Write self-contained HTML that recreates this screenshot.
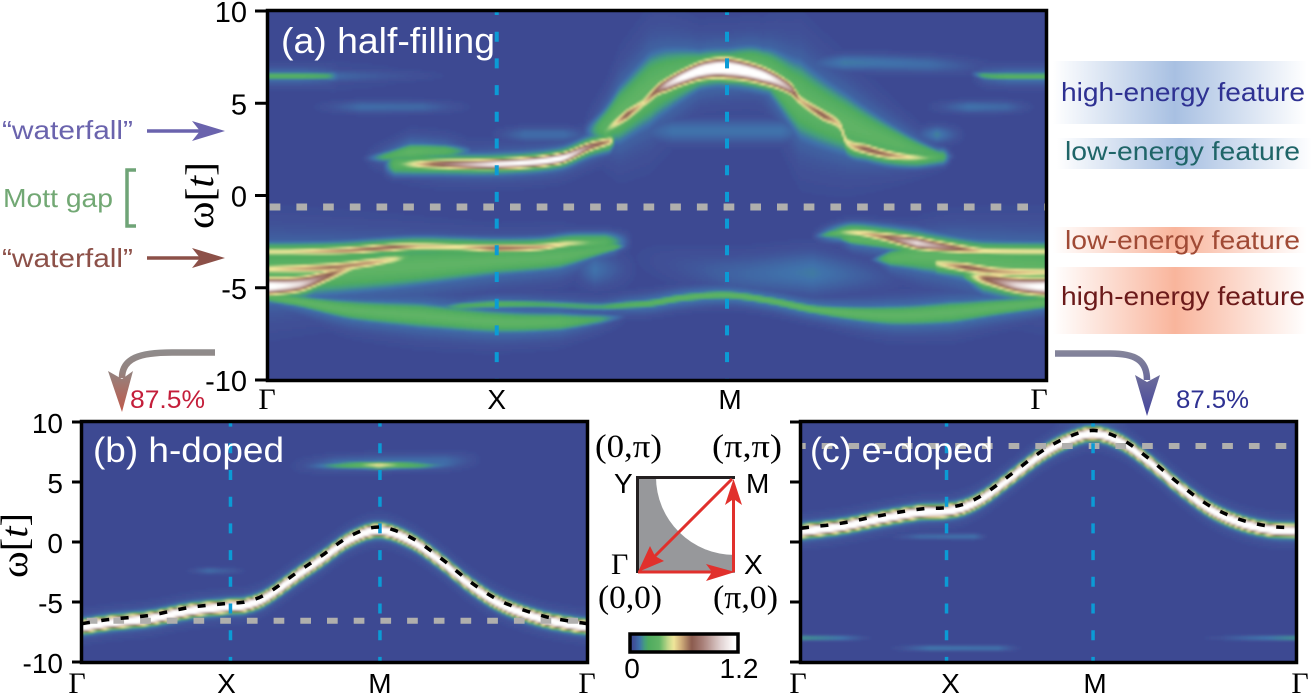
<!DOCTYPE html>
<html lang="en">
<head>
<meta charset="utf-8">
<title>Spectral function panels</title>
<style>
html,body{margin:0;padding:0;background:#fff;}
svg{display:block;}
text{font-family:"Liberation Sans",sans-serif;}
.serif{font-family:"Liberation Serif",serif;}
</style>
</head>
<body>
<svg id="figure" xmlns="http://www.w3.org/2000/svg" width="1314" height="694" viewBox="0 0 1314 694">
<defs>
<filter id="heat-blur" filterUnits="userSpaceOnUse" x="0" y="0" width="1314" height="694"><feGaussianBlur stdDeviation="1"/></filter>
<clipPath id="clip-a"><rect x="268" y="12" width="778" height="367"/></clipPath>
<clipPath id="clip-b"><rect x="82" y="423" width="505" height="238"/></clipPath>
<clipPath id="clip-c"><rect x="801" y="423" width="495" height="238"/></clipPath>
<linearGradient id="grad-blue-high" x1="0" x2="1" y1="0" y2="0"><stop offset="0" stop-color="#a8c0e2" stop-opacity="0"/><stop offset=".48" stop-color="#a8c0e2"/><stop offset="1" stop-color="#a8c0e2" stop-opacity="0"/></linearGradient>
<linearGradient id="grad-red-high" x1="0" x2="1" y1="0" y2="0"><stop offset="0" stop-color="#f9b59c" stop-opacity="0"/><stop offset=".48" stop-color="#f9b59c"/><stop offset="1" stop-color="#f9b59c" stop-opacity="0"/></linearGradient>
<linearGradient id="grad-arrow-left" gradientUnits="userSpaceOnUse" x1="0" x2="0" y1="352" y2="412"><stop offset="0" stop-color="#8f8b8b"/><stop offset=".35" stop-color="#95827e"/><stop offset="1" stop-color="#c0594a"/></linearGradient>
<linearGradient id="grad-arrow-right" gradientUnits="userSpaceOnUse" x1="0" x2="0" y1="352" y2="416"><stop offset="0" stop-color="#85859a"/><stop offset="1" stop-color="#45459c"/></linearGradient>
</defs>

<g>
<text x="2" y="139" font-size="26" fill="#6a63ad" textLength="131" lengthAdjust="spacingAndGlyphs">“waterfall”</text>
<line x1="147" y1="131" x2="205" y2="131" stroke="#6a63ad" stroke-width="3.5"/>
<polygon points="192,121 225,131 192,141 200,131" fill="#6a63ad"/>
<text x="3" y="207" font-size="26" fill="#72a874" textLength="110" lengthAdjust="spacingAndGlyphs">Mott gap</text>
<path d="M136,170 H127 V226 H136" fill="none" stroke="#6fa477" stroke-width="3.5"/>
<text x="2" y="267" font-size="26" fill="#8c5048" textLength="131" lengthAdjust="spacingAndGlyphs">“waterfall”</text>
<line x1="147" y1="258" x2="205" y2="258" stroke="#8c5048" stroke-width="3.5"/>
<polygon points="192,248 225,258 192,268 200,258" fill="#8c5048"/>
<text transform="translate(213,229) rotate(-90)" class="serif" font-size="40" fill="#000" textLength="67" lengthAdjust="spacingAndGlyphs">ω[<tspan font-style="italic">t</tspan>]</text>
<text transform="translate(27,578) rotate(-90)" class="serif" font-size="38" fill="#000" textLength="65" lengthAdjust="spacingAndGlyphs">ω[<tspan font-style="italic">t</tspan>]</text>
</g>

<g>
<rect x="1053" y="61" width="254" height="63" fill="url(#grad-blue-high)"/>
<rect x="1057" y="138" width="255" height="31" fill="url(#grad-blue-high)"/>
<rect x="1053" y="227" width="254" height="26" fill="url(#grad-red-high)"/>
<rect x="1053" y="267" width="254" height="67" fill="url(#grad-red-high)"/>
<text x="1061" y="101" font-size="26" fill="#2e3192" textLength="244" lengthAdjust="spacingAndGlyphs">high-energy feature</text>
<text x="1065" y="160" font-size="26" fill="#1f6568" textLength="235" lengthAdjust="spacingAndGlyphs">low-energy feature</text>
<text x="1065" y="249" font-size="26" fill="#a04a35" textLength="235" lengthAdjust="spacingAndGlyphs">low-energy feature</text>
<text x="1061" y="305" font-size="26" fill="#6b1a1a" textLength="244" lengthAdjust="spacingAndGlyphs">high-energy feature</text>
</g>

<g>
<path d="M215,352.5 H172 C140,352.5 122,358 122,378" fill="none" stroke="url(#grad-arrow-left)" stroke-width="6.5"/>
<polygon points="108,371 122,379 133,371 122,412" fill="url(#grad-arrow-left)"/>
<text x="130" y="408" font-size="25" fill="#c41e3a" textLength="75" lengthAdjust="spacingAndGlyphs">87.5%</text>
<path d="M1055,353.5 H1110 C1135,353.5 1147,360 1147,380" fill="none" stroke="url(#grad-arrow-right)" stroke-width="6.5"/>
<polygon points="1135,375 1147,382 1160,375 1147,416" fill="url(#grad-arrow-right)"/>
<text x="1176" y="408" font-size="25" fill="#2e3192" textLength="73" lengthAdjust="spacingAndGlyphs">87.5%</text>
</g>

<g id="panels"></g>

<g>
<rect x="637" y="477" width="98" height="96" fill="#97989b"/>
<path d="M656,477 A79,78 0 0 0 735,555 V477 Z" fill="#fff"/>
<path d="M637.5,573 V477.5 H735" fill="none" stroke="#231f20" stroke-width="3"/>
<line x1="638" y1="572" x2="715" y2="572" stroke="#e1302c" stroke-width="3"/>
<polygon points="706,564 735,572 706,581 712,572" fill="#e1302c"/>
<line x1="733.5" y1="572" x2="733.5" y2="495" stroke="#e1302c" stroke-width="3"/>
<polygon points="725,505 733.5,479 742,505 733.5,499" fill="#e1302c"/>
<line x1="732" y1="479" x2="652" y2="559" stroke="#e1302c" stroke-width="3"/>
<polygon points="638,572 650,546 655,556 664,561" fill="#e1302c"/>
<text class="serif" x="595" y="457" font-size="33" fill="#000" textLength="67" lengthAdjust="spacingAndGlyphs">(0,π)</text>
<text class="serif" x="712" y="457" font-size="33" fill="#000" textLength="70" lengthAdjust="spacingAndGlyphs">(π,π)</text>
<text class="serif" x="598" y="608" font-size="33" fill="#000" textLength="64" lengthAdjust="spacingAndGlyphs">(0,0)</text>
<text class="serif" x="713" y="608" font-size="33" fill="#000" textLength="65" lengthAdjust="spacingAndGlyphs">(π,0)</text>
<text x="614" y="493" font-size="28" fill="#000">Y</text>
<text x="746" y="493" font-size="28" fill="#000">M</text>
<text class="serif" x="611" y="574" font-size="30" fill="#000">Γ</text>
<text x="744" y="574" font-size="28" fill="#000">X</text>
</g>

<g id="colorbar"></g>

<script>
// ---- momentum path (percent along Γ-X-M-Γ) and energy axis ----
const kTickValues = [0, 29.4, 59, 100];
const kTickLabels = ['Γ', 'X', 'M', 'Γ'];
const energyTickValues = [10, 5, 0, -5, -10];
const energyTickLabels = ['10', '5', '0', '-5', '-10'];
const fermiLevelA = -0.62;
const fermiLevelB = -6.56;
const fermiLevelC = 8.0;
const colorbarLabels = ['0', '1.2'];

// ---- panel (a) spectral bands: k, energy, weight, width ----
const uhbK = [14.5,16.3,19.5,22.1,29.4,37.5,41.4,44,44.6];
const uhbW = [1.7,1.7,1.7,1.7,1.7,2.0,2.65,2.95,3.05];
const uhbI = [0,.25,.55,.75,1.15,1.25,.8,.58,0];
const uhbS = .2;
const uhbHaloK = [13.5,22,29.4,37.5,41.4,44.5];
const uhbHaloW = [1.75,1.7,1.7,2.0,2.65,3.0];
const uhbHaloI = [0,.25,.28,.28,.28,.2];
const uhbHaloS = .32;
const domeK = [43.3,46.1,48.2,50,51.3,53.3,56,59,63.6,67.1,68.4,71.3,73.5,74.4,77,79.9,83.4,86.8,88];
const domeW = [3.5,4.36,5.0,5.7,6.0,6.4,6.8,6.9,6.5,5.8,5.17,4.36,3.8,2.9,2.5,2.2,2.05,2.1,2.1];
const domeI = [.3,.72,.5,.75,1.0,1.2,1.35,1.4,1.25,.9,.55,.72,.52,.48,.74,.64,.44,.2,0];
const domeS = [.25,.25,.25,.26,.28,.3,.34,.38,.33,.26,.25,.25,.25,.25,.22,.2,.17,.14,.12];
const domeHaloK = [40.1,43,45.2,49.1,51.3,55.5,59,63.6,68.4,74.4,81.2,86.3,88.5];
const domeHaloW = [3.4,3.7,4.4,5.75,6.25,6.8,6.95,6.9,5.2,3.85,2.75,2.2,2.1];
const domeHaloI = [0,.25,.3,.3,.3,.3,.3,.3,.3,.3,.28,.2,0];
const domeHaloS = [.3,.6,1.0,1.25,1.1,.7,.67,.7,1.35,1.05,.55,.2,.1];
const shelfK = [12,15,18.3,22.8,26];
const shelfW = [2,2.1,2.35,2.4,2.4];
const shelfI = [0,.2,.3,.25,.08];
const shelfS = [.15,.2,.3,.25,.2];
const lhb1K = [-1,2.8,9.3,15.7,19.5,24.7,29.4,35,38.8,43.3,47];
const lhb1W = [-3.05,-3.05,-3,-2.82,-2.75,-2.8,-2.85,-2.8,-2.6,-2.55,-2.5];
const lhb1I = [.48,.48,.62,.72,.55,.5,.72,.6,.45,.25,0];
const lhb1S = .17;
const lhb2K = [-1,8,13.1,16.3,19.5];
const lhb2W = [-4.0,-3.9,-3.65,-3.45,-3.3];
const lhb2I = [.46,.66,.6,.46,.1];
const lhb2S = .21;
const lhb3K = [-1,4.1,7.3,10.5,13.1,16];
const lhb3W = [-4.95,-4.8,-4.4,-3.9,-3.6,-3.4];
const lhb3I = [1.3,1.05,.75,.5,.3,0];
const lhb3S = [.33,.3,.26,.24,.22,.2];
const lhbBlobK = [-1,16,29.4,37.5,44.5,46.5];
const lhbBlobW = [-4.2,-3.9,-3.55,-3.3,-2.8,-2.7];
const lhbBlobI = [.3,.3,.3,.3,.25,0];
const lhbBlobS = [1,.75,.5,.45,.15,.1];
const lowBlobK = [0,4,10.5,19.5,29.4,37.5,42.7,47];
const lowBlobW = [-5.5,-5.75,-6.2,-6.5,-6.85,-6.85,-6.7,-6.5];
const lowBlobI = [.25,.3,.3,.3,.3,.28,.18,0];
const lowBlobS = [.2,.2,.35,.45,.4,.33,.2,.1];
const lowThinK = [19.5,24.7,29.4,35,42.7,46.1,49.1,53.3,59,64.5,70.6,79.9,87.7,94.1,101];
const lowThinW = [-6.2,-6.0,-5.9,-5.9,-6.03,-5.94,-5.85,-5.55,-5.4,-5.7,-6.2,-6.5,-6.35,-6.05,-5.77];
const lowThinI = [0,.2,.25,.2,.18,.25,.28,.3,.3,.3,.3,.3,.3,.3,.3];
const lowThinS = [.15,.15,.15,.15,.15,.15,.15,.15,.15,.15,.17,.35,.4,.3,.2];
const r1K = [69.7,74.8,79,83.4,87.7,91.9,101];
const r1W = [-2.23,-2,-2.23,-2.58,-2.83,-3,-3.05];
const r1I = [0,.45,.65,1.05,.78,.5,.48];
const r1S = [.14,.16,.2,.25,.21,.17,.17];
const r2K = [85,86,89.8,94.1,101];
const r2W = [-3.55,-3.67,-3.9,-4.13,-4.15];
const r2I = [0,.45,.72,.6,.48];
const r2S = .21;
const r3K = [88.5,91.9,96.3,101];
const r3W = [-4.2,-4.48,-4.85,-4.97];
const r3I = [0,.65,1.05,1.3];
const r3S = [.22,.28,.31,.34];
const rTopK = [72,75,81,84];
const rTopW = [-2.2,-2.35,-2.6,-3];
const rTopI = [0,.3,.3,.3];
const rTopS = [.1,.2,.3,.4];
const rBlobK = [77,80,84,88,94,101];
const rBlobW = [-3.5,-3.4,-3.3,-3.4,-3.8,-4.1];
const rBlobI = [0,.28,.3,.3,.3,.3];
const rBlobS = [.05,.3,.55,.7,.85,.95];
const hazeLowK = [45,59,70,85];
const hazeLowW = [-3.2,-4.2,-4.2,-4.6];
const hazeLowI = [0,.07,.11,0];
const hazeLowS = [.7,.8,.9,.5];
const hazeMidK = [38,42,48];
const hazeMidW = [-3.8,-4,-4];
const hazeMidI = [0,.1,0];
const hazeMidS = .7;
const hazeTopK = [66,74,85,95];
const hazeTopW = [7,7.2,7.1,6.9];
const hazeTopI = [0,.11,.09,0];
const hazeTopS = .35;
const streakLK = [-1,4,7.5,9,25];
const streakLW = [6.47,6.47,6.47,6.47,6.5];
const streakLI = [.27,.27,.2,.08,0];
const streakLS = [.12,.12,.14,.25,.25];
const streakRK = [90,92,95,101];
const streakRW = [6.65,6.5,6.45,6.45];
const streakRI = [0,.2,.27,.27];
const streakRS = .13;
const faintLK = [5,12,20,27];
const faintLW = [4.8,4.8,4.8,4.8];
const faintLI = [0,.09,.08,0];
const faintRK = [84,90,95,99];
const faintRW = [4.8,4.8,4.8,4.8];
const faintRI = [0,.1,.08,0];
const faintS = .25;
const hazeUnderK = [44,52,66,72];
const hazeUnderW = [3.5,3.5,3.5,3.5];
const hazeUnderI = [0,.1,.1,0];
const hazeUnderS = .5;
const hazeRK = [82,86,90];
const hazeRW = [3.3,3.3,3.3];
const hazeRI = [0,.12,0];
const hazeRS = .35;
const hazeGapK = [28,33,38,43];
const hazeGapW = [3.3,3.3,3.3,3.3];
const hazeGapI = [0,.09,.09,0];
const hazeGapS = .3;

// ---- panel (b): quasiparticle dispersion and satellites ----
const dispBK = [0,5.5,13.5,21.4,29.3,32.3,36.2,43.2,47.1,53.1,58.8,65,70.9,76.8,82.8,90.7,96.6,100];
const dispBW = [-6.8,-6.45,-6.1,-5.45,-5.1,-5.0,-4.4,-2.35,-1.25,.5,1.25,.4,-1.3,-3.3,-4.9,-6.1,-6.6,-6.8];
const satB1K = [42,48,55,58.8,63,70,78];
const satB1W = [6.3,6.35,6.4,6.4,6.4,6.4,6.6];
const satB1I = [0,.12,.3,.5,.3,.12,0];
const satB2K = [40,50,60,72,80];
const satB2W = [6.3,6.5,6.6,6.7,6.9];
const satB2I = [0,.09,.1,.09,0];
const satB3K = [20,25,30,33];
const satB3W = [-2.4,-2.4,-2.4,-2.4];
const satB3I = [0,.09,.05,0];

// ---- panel (c): quasiparticle dispersion and satellites ----
const dispCK = [0,7.9,16,24.1,29.4,33.2,37.2,42.3,48.4,53.4,58.9,64.6,70.6,76.7,82.8,88.9,94.9,100];
const dispCW = [1.15,1.55,2.2,2.75,2.86,3.2,4.05,5.6,7.5,8.65,9.3,8.6,6.85,4.75,2.95,1.85,1.3,1.2];
const satC1K = [-1,8,15];
const satC1W = [-8,-8,-8];
const satC1I = [.16,.12,0];
const satC2K = [80,90,101];
const satC2W = [-8,-8,-8];
const satC2I = [0,.09,.16];
const satC3K = [17,26,40,45];
const satC3W = [-8.85,-8.85,-8.85,-8.85];
const satC3I = [0,.11,.1,0];
const satC4K = [17,24,35,38];
const satC4W = [.45,.45,.45,.45];
const satC4I = [0,.09,.1,0];
const satC5K = [50,59,67];
const satC5W = [9.6,9.6,9.6];
const satC5I = [0,.1,0];

const mainBandWeight = 1.6;
const mainBandWidth = .3;
const mainBandShift = -0.28;
const mainHaloWeight = .3;
const mainHaloWidth = .5;
const mainFringeWeight = .1;
const mainFringeWidth = .8;

// ---- colormap ----
const cmapValues = [0,.04,.1,.16,.2,.32,.42,.48,.56,.68,.8,1.0,1.15];
const cmapColors = [[62,74,146],[63,82,152],[63,114,171],[69,160,122],[79,171,96],[98,181,102],[196,217,139],[240,230,154],[210,176,124],[139,91,78],[168,127,120],[224,208,208],[255,255,255]];

const NS = 'http://www.w3.org/2000/svg';
function svgEl(tag, attrs, parent){
  const el = document.createElementNS(NS, tag);
  for (const a in attrs) el.setAttribute(a, attrs[a]);
  parent.appendChild(el);
  return el;
}
function colorOf(v){
  const n = cmapValues.length;
  if (v <= cmapValues[0]) return cmapColors[0];
  if (v >= cmapValues[n-1]) return cmapColors[n-1];
  for (let i = 0; i < n-1; i++){
    if (v <= cmapValues[i+1]){
      const u = (v-cmapValues[i])/(cmapValues[i+1]-cmapValues[i]);
      return cmapColors[i].map((c,j)=>Math.round(c+(cmapColors[i+1][j]-c)*u));
    }
  }
  return cmapColors[n-1];
}
function rgb(c){ return 'rgb('+c[0]+','+c[1]+','+c[2]+')'; }
function lerp(ks, vs, t){
  if (typeof vs === 'number') return vs;
  for (let i = 0; i < ks.length-1; i++){
    if (t <= ks[i+1]){
      const u = (t-ks[i])/(ks[i+1]-ks[i]);
      return vs[i]+(vs[i+1]-vs[i])*u;
    }
  }
  return vs[vs.length-1];
}
function smooth(ks, vs, t){
  const n = ks.length;
  let i = 0;
  while (i < n-2 && t > ks[i+1]) i++;
  const h = ks[i+1]-ks[i];
  const u = (t-ks[i])/h;
  const m0 = i > 0 ? (vs[i+1]-vs[i-1])/(ks[i+1]-ks[i-1]) : (vs[1]-vs[0])/(ks[1]-ks[0]);
  const m1 = i < n-2 ? (vs[i+2]-vs[i])/(ks[i+2]-ks[i]) : (vs[n-1]-vs[n-2])/(ks[n-1]-ks[n-2]);
  const u2 = u*u, u3 = u2*u;
  return (2*u3-3*u2+1)*vs[i]+(u3-2*u2+u)*h*m0+(-2*u3+3*u2)*vs[i+1]+(u3-u2)*h*m1;
}
function band(k, w, i, s){ return {k:k, w:w, i:i, s:s}; }
// each feature also carries a soft green halo (bright bands) and a faint blue fringe
function withHalos(list){
  const out = [];
  list.forEach(function(b){
    const s = typeof b.s === 'number' ? b.k.map(()=>b.s) : b.s;
    const peak = Math.max.apply(null, b.i);
    if (peak >= .2){
      out.push(band(b.k, b.w, b.i.map(v=>Math.min(v,.3)*.37), s.map(v=>v*1.6+.2)));
    }
    if (peak >= .4){
      out.push(band(b.k, b.w, b.i.map(v=>Math.min(v,.27)), s.map(v=>v*1.7+.08)));
    }
    out.push(b);
  });
  return out;
}

const bandsA = withHalos([
  band(uhbK,uhbW,uhbI,uhbS), band(uhbHaloK,uhbHaloW,uhbHaloI,uhbHaloS),
  band(domeK,domeW,domeI,domeS), band(domeHaloK,domeHaloW,domeHaloI,domeHaloS),
  band(shelfK,shelfW,shelfI,shelfS), band(lhb1K,lhb1W,lhb1I,lhb1S),
  band(lhb2K,lhb2W,lhb2I,lhb2S), band(lhb3K,lhb3W,lhb3I,lhb3S),
  band(lhbBlobK,lhbBlobW,lhbBlobI,lhbBlobS), band(lowBlobK,lowBlobW,lowBlobI,lowBlobS),
  band(lowThinK,lowThinW,lowThinI,lowThinS), band(r1K,r1W,r1I,r1S),
  band(r2K,r2W,r2I,r2S), band(r3K,r3W,r3I,r3S),
  band(rTopK,rTopW,rTopI,rTopS), band(rBlobK,rBlobW,rBlobI,rBlobS),
  band(hazeLowK,hazeLowW,hazeLowI,hazeLowS), band(hazeMidK,hazeMidW,hazeMidI,hazeMidS),
  band(hazeTopK,hazeTopW,hazeTopI,hazeTopS), band(streakLK,streakLW,streakLI,streakLS),
  band(streakRK,streakRW,streakRI,streakRS), band(faintLK,faintLW,faintLI,faintS),
  band(faintRK,faintRW,faintRI,faintS), band(hazeUnderK,hazeUnderW,hazeUnderI,hazeUnderS),
  band(hazeRK,hazeRW,hazeRI,hazeRS), band(hazeGapK,hazeGapW,hazeGapI,hazeGapS)
]);
function mainBands(ks, ws){
  const shifted = ws.map(v=>v+mainBandShift);
  return [
    band(ks, shifted, ks.map(()=>mainFringeWeight), mainFringeWidth),
    band(ks, shifted, ks.map(()=>mainHaloWeight), mainHaloWidth),
    band(ks, shifted, ks.map(()=>mainBandWeight), mainBandWidth)
  ];
}
const bandsB = mainBands(dispBK, dispBW).concat([
  band(satB1K,satB1W,satB1I,.2), band(satB2K,satB2W,satB2I,.5), band(satB3K,satB3W,satB3I,.2)
]);
const bandsC = mainBands(dispCK, dispCW).concat([
  band(satC1K,satC1W,satC1I,.15), band(satC2K,satC2W,satC2I,.15),
  band(satC3K,satC3W,satC3I,.18), band(satC4K,satC4W,satC4I,.18), band(satC5K,satC5W,satC5I,.4)
]);

function drawPanel(cfg){
  const root = document.getElementById('panels');
  const L = cfg.left, R = cfg.right, T = cfg.top, B = cfg.bottom;
  const xScale = k => L + (k/100)*(R-L);
  const yScale = w => (T+B)/2 - w*(B-T)/20;
  const xInv = x => (x-L)/(R-L)*100;
  const yInv = y => ((T+B)/2 - y)/((B-T)/20);

  const g = svgEl('g', {}, root);
  
  

  const clipG = svgEl('g', {'clip-path':'url(#clip-'+cfg.id+')'}, g);
  
  

  const heat = svgEl('g', {filter:'url(#heat-blur)', 'shape-rendering':'crispEdges'}, clipG);
  
  

  const bg = svgEl('rect', {x:L-6, y:T-6, width:R-L+12, height:B-T+12, fill:rgb(cmapColors[0])}, heat);
  
  

  const CELL = 2;
  for (let x = L; x < R; x += CELL){
    const t = xInv(x+CELL/2);
    const active = [];
    for (const b of cfg.bands){
      if (t < b.k[0] || t > b.k[b.k.length-1]) continue;
      const wt = lerp(b.k, b.i, t);
      if (wt <= 0.005) continue;
      active.push([smooth(b.k, b.w, t), wt, lerp(b.k, b.s, t)]);
    }
    if (!active.length) continue;
    for (let y = T; y < B; y += CELL){
      const w = yInv(y+CELL/2);
      let v = 0;
      for (const a of active){
        const d = (w-a[0])/a[2];
        if (d*d > 16) continue;
        const val = a[1]*Math.exp(-0.5*d*d);
        if (val > v) v = val;
      }
      if (v < 0.012) continue;
      const cell = svgEl('rect', {x:x, y:y, width:CELL, height:CELL, fill:rgb(colorOf(v))}, heat);
      
      
    }
  }

  const fermi = svgEl('line', {x1:L-cfg.grayLead, x2:R, y1:yScale(cfg.fermi), y2:yScale(cfg.fermi), stroke:'#b0afad', 'stroke-width':cfg.grayW, 'stroke-dasharray':'10.7 16'}, clipG);
  
  

  [kTickValues[1], kTickValues[2]].forEach(function(k){
    const vl = svgEl('line', {x1:xScale(k), x2:xScale(k), y1:T+cfg.blueStart, y2:B, stroke:'#0b9bd5', 'stroke-width':cfg.blueW, 'stroke-dasharray':'10 16.7'}, clipG);
    
    
  });

  if (cfg.dispK){
    let pts = [];
    for (let t = 0; t <= 100; t += 1){
      pts.push(xScale(t).toFixed(1)+','+yScale(smooth(cfg.dispK, cfg.dispW, t)).toFixed(1));
    }
    const pl = svgEl('polyline', {points:pts.join(' '), fill:'none', stroke:'#000', 'stroke-width':3.5, 'stroke-dasharray':'8 11.5'}, clipG);
    
    
  }

  const title = svgEl('text', {x:cfg.titleX, y:cfg.titleY, 'font-size':cfg.titleSize, fill:'#fff', textLength:cfg.titleLen, lengthAdjust:'spacingAndGlyphs'}, g);
  title.textContent = cfg.title;
  
  

  const frame = svgEl('rect', {x:L-.5, y:T-.5, width:R-L+1, height:B-T+1, fill:'none', stroke:'#000', 'stroke-width':3.5}, g);
  
  

  energyTickValues.forEach(function(w, i){
    const tick = svgEl('line', {x1:L-cfg.tickLen, x2:L, y1:yScale(w), y2:yScale(w), stroke:'#000', 'stroke-width':3}, g);
    
    
    if (cfg.yLabels){
      const lab = svgEl('text', {x:cfg.labelX, y:yScale(w)+cfg.labelDy, 'font-size':cfg.labelSize, 'text-anchor':'end', fill:'#000'}, g);
      lab.textContent = energyTickLabels[i];
      
      
    }
  });

  kTickValues.forEach(function(k, i){
    const isGamma = kTickLabels[i] === 'Γ';
    const lab = svgEl('text', {x:xScale(k)+cfg.xShift[i], y:cfg.xLabelY, 'font-size':isGamma?30:28, 'text-anchor':'middle', fill:'#000'}, g);
    if (isGamma) lab.setAttribute('class', 'serif');
    lab.textContent = kTickLabels[i];
    
    
  });
}

drawPanel({id:'a', left:268, right:1046, top:11, bottom:380, bands:bandsA, fermi:fermiLevelA, grayLead:25, grayW:7, blueStart:-6, blueW:4,
  title:'(a) half-filling', titleX:281, titleY:53, titleSize:36, titleLen:214, tickLen:13, yLabels:true, labelX:247, labelDy:11, labelSize:29,
  xShift:[-1,0,3,-7], xLabelY:409});
drawPanel({id:'b', left:82, right:587, top:422, bottom:662, bands:bandsB, fermi:fermiLevelB, grayLead:22, grayW:6, blueStart:-5.4, blueW:3.5, dispK:dispBK, dispW:dispBW,
  title:'(b) h-doped', titleX:93, titleY:462, titleSize:35, titleLen:191, tickLen:10, yLabels:true, labelX:63, labelDy:11, labelSize:28,
  xShift:[-5,-4,0,0], xLabelY:693});
drawPanel({id:'c', left:801, right:1296, top:422, bottom:662, bands:bandsC, fermi:fermiLevelC, grayLead:6, grayW:6, blueStart:-5.4, blueW:3.5, dispK:dispCK, dispW:dispCW,
  title:'(c) e-doped', titleX:810, titleY:462, titleSize:35, titleLen:183, tickLen:11, yLabels:false,
  xShift:[-3,4,2,4], xLabelY:693});

(function(){
  const cb = document.getElementById('colorbar');
  const x0 = 630, x1 = 738, y0 = 634, h = 18;
  const scaleX = v => x0 + (v/1.2)*(x1-x0);
  for (let v = 0; v < 1.2; v += 0.0125){
    const seg = svgEl('rect', {x:scaleX(v), y:y0, width:(x1-x0)/96+.4, height:h, fill:rgb(colorOf(v))}, cb);
    
    
  }
  const fr = svgEl('rect', {x:x0, y:y0, width:x1-x0, height:h, fill:'none', stroke:'#000', 'stroke-width':3.5}, cb);
  
  
  const l0 = svgEl('text', {x:632, y:678, 'font-size':28, 'text-anchor':'middle', fill:'#000'}, cb);
  l0.textContent = colorbarLabels[0];
  
  
  const l1 = svgEl('text', {x:739, y:678, 'font-size':28, 'text-anchor':'middle', fill:'#000'}, cb);
  l1.textContent = colorbarLabels[1];
  
  
})();
</script>
</svg>
</body>
</html>
